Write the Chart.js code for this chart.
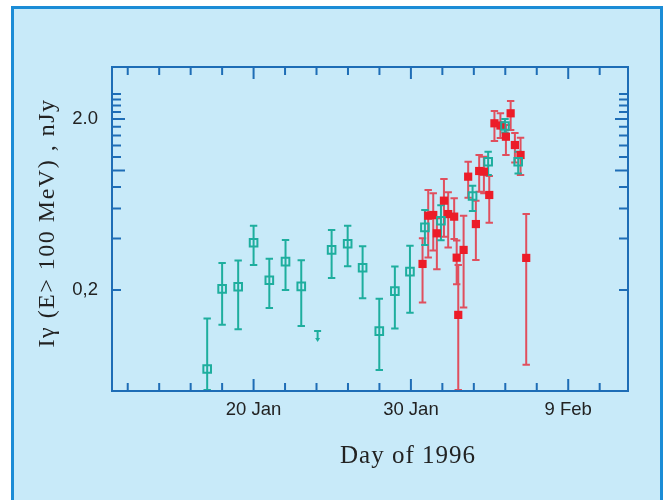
<!DOCTYPE html>
<html lang="en">
<head>
<meta charset="UTF-8" />
<title>Gamma-ray flux, Jan-Feb 1996</title>
<script src="https://cdn.jsdelivr.net/npm/chart.js"></script>
<style>
  html, body { margin: 0; padding: 0; background: #fff; }
  body { width: 663px; height: 500px; overflow: hidden; position: relative; }
  .frame { position: absolute; left: 11px; top: 6px; width: 646px; height: 520px;
           border: 3px solid #1b8cd6; background: #c8eaf9; }
  .chart-wrapper { position: absolute; left: 0; top: 0; width: 663px; height: 500px; }
</style>
</head>
<body>
<div class="frame"></div>
<div class="chart-wrapper">
  <canvas id="fluxChart" width="663" height="500"></canvas>
</div>

<script>
  // open squares (teal): day of 1996, flux and error range (nJy)
  const tealDays = [17.05, 18.0, 19.02, 20.0, 21.0, 22.03, 23.03, 24.96, 25.98, 26.93,
                    27.99, 28.98, 29.94, 30.89, 31.91, 33.92, 34.91, 35.98, 36.82];
  const tealFlux = [0.069, 0.203, 0.209, 0.378, 0.228, 0.293, 0.210, 0.343, 0.373, 0.270,
                    0.115, 0.197, 0.256, 0.465, 0.508, 0.709, 1.125, 1.82, 1.125];
  const tealHigh = [0.136, 0.288, 0.297, 0.475, 0.305, 0.392, 0.298, 0.449, 0.475, 0.361,
                    0.178, 0.274, 0.363, 0.587, 0.626, 0.815, 1.288, 2.0, 1.288];
  const tealLow  = [0.052, 0.125, 0.118, 0.280, 0.157, 0.200, 0.123, 0.235, 0.275, 0.179,
                    0.068, 0.119, 0.147, 0.367, 0.391, 0.579, 0.94, 1.67, 0.96];
  // upper limit (arrow)
  const tealLimitDays = [24.07];
  const tealLimitFlux = [0.115];

  // filled squares (red)
  const redDays = [30.74, 31.10, 31.42, 31.65, 32.10, 32.37, 32.75, 32.91, 33.01, 33.35, 33.64,
                   34.13, 34.34, 34.64, 34.98, 35.31, 35.69, 36.04, 36.34, 36.61, 36.97, 37.33];
  const redFlux = [0.284, 0.544, 0.549, 0.429, 0.666, 0.556, 0.537, 0.309, 0.143, 0.343, 0.920,
                   0.486, 0.993, 0.984, 0.719, 1.888, 1.832, 1.576, 2.160, 1.409, 1.232, 0.308];
  const redHigh = [0.401, 0.769, 0.735, 0.525, 0.891, 0.745, 0.688, 0.389, 0.280, 0.544, 1.125,
                   0.666, 1.232, 1.204, 0.928, 2.227, 2.160, 1.845, 2.549, 1.656, 1.555, 0.556];
  const redLow  = [0.169, 0.310, 0.340, 0.264, 0.410, 0.355, 0.398, 0.216, 0.052, 0.158, 0.693,
                   0.299, 0.751, 0.735, 0.495, 1.487, 1.549, 1.232, 1.725, 1.113, 0.941, 0.073];

  // axes
  const xMin = 11, xMax = 43.8;
  const xTickDays = [12, 14, 16, 18, 20, 22, 24, 26, 28, 30, 32, 34, 36, 38, 40, 42];
  const xLabelDays = [20, 30, 40];
  const xTickLabels = ["20 Jan", "30 Jan", "9 Feb"];
  const yMin = 0.0513, yMax = 4.03;
  const yTickValues = [0.2, 0.4, 0.6, 0.8, 1.0, 1.2, 1.4, 1.6, 1.8, 2.0, 2.2, 2.4, 2.6, 2.8];
  const yMajorValues = [1.0, 2.0];
  const yLabelValues = [0.2, 2.0];
  const yTickLabels = ["0,2", "2.0"];

  const xTitle = "Day of 1996";
  const yTitle = "Iγ (E> 100 MeV) , nJy";

  const axisColor = "#1e6db6";
  const tealColor = "#1eae9e";
  const redColor = "#ec1c28";
  const redBarColor = "rgba(230, 40, 55, 0.8)";
  const textColor = "#222";

  const near = (a, b) => Math.abs(a - b) < 1e-6;

  // error bars + upper limit, drawn under the squares
  const errorBars = {
    id: "errorBars",
    beforeDatasetsDraw(chart) {
      const { ctx, chartArea: a, scales: { x, y } } = chart;
      ctx.save();
      ctx.beginPath();
      ctx.rect(a.left, a.top, a.width, a.height);
      ctx.clip();
      const bars = (days, low, high, color) => {
        ctx.strokeStyle = color;
        ctx.lineWidth = 2;
        ctx.beginPath();
        days.forEach((d, i) => {
          const px = x.getPixelForValue(d);
          const lo = y.getPixelForValue(low[i]);
          const hi = y.getPixelForValue(high[i]);
          ctx.moveTo(px, lo); ctx.lineTo(px, hi);
          ctx.moveTo(px - 3.7, lo); ctx.lineTo(px + 3.7, lo);
          ctx.moveTo(px - 3.7, hi); ctx.lineTo(px + 3.7, hi);
        });
        ctx.stroke();
      };
      bars(redDays, redLow, redHigh, redBarColor);
      bars(tealDays, tealLow, tealHigh, tealColor);

      // upper limit arrow
      ctx.strokeStyle = tealColor;
      ctx.fillStyle = tealColor;
      tealLimitDays.forEach((d, i) => {
        const px = x.getPixelForValue(d);
        const py = y.getPixelForValue(tealLimitFlux[i]);
        ctx.beginPath();
        ctx.moveTo(px - 3.5, py); ctx.lineTo(px + 3.5, py);
        ctx.moveTo(px, py); ctx.lineTo(px, py + 8);
        ctx.stroke();
        ctx.beginPath();
        ctx.moveTo(px - 2.5, py + 7); ctx.lineTo(px + 2.5, py + 7); ctx.lineTo(px, py + 11);
        ctx.closePath();
        ctx.fill();
      });
      ctx.restore();
    }
  };

  // box axes with inward ticks on all four sides, and the axis titles
  const axesFrame = {
    id: "axesFrame",
    afterDraw(chart) {
      const { ctx, chartArea: a, scales: { x, y } } = chart;
      ctx.save();
      ctx.strokeStyle = axisColor;
      ctx.lineWidth = 2;
      ctx.strokeRect(a.left, a.top, a.width, a.height);
      ctx.beginPath();
      xTickDays.forEach(d => {
        const px = x.getPixelForValue(d);
        const len = xLabelDays.includes(d) ? 12 : 8;
        ctx.moveTo(px, a.bottom); ctx.lineTo(px, a.bottom - len);
        ctx.moveTo(px, a.top); ctx.lineTo(px, a.top + len);
      });
      yTickValues.forEach(v => {
        const py = y.getPixelForValue(v);
        const len = yMajorValues.some(m => near(m, v)) ? 13 : 9;
        ctx.moveTo(a.left, py); ctx.lineTo(a.left + len, py);
        ctx.moveTo(a.right, py); ctx.lineTo(a.right - len, py);
      });
      ctx.stroke();

      ctx.fillStyle = textColor;
      ctx.textAlign = "center";
      ctx.textBaseline = "middle";
      ctx.font = '25px "Liberation Serif"';
      ctx.letterSpacing = "1px";
      ctx.fillText(xTitle, 408, 456);

      ctx.translate(48, 223);
      ctx.rotate(-Math.PI / 2);
      ctx.font = '24px "Liberation Serif"';
      ctx.letterSpacing = "1.5px";
      ctx.fillText(yTitle, 0, 0);
      ctx.restore();
    }
  };

  const tickFont = { family: '"Liberation Sans", Arial, sans-serif', size: 18.5 };

  new Chart(document.getElementById("fluxChart").getContext("2d"), {
    type: "scatter",
    data: {
      datasets: [
        {
          label: "open squares",
          data: tealDays.map((d, i) => ({ x: d, y: tealFlux[i] })),
          pointStyle: "rect",
          pointRadius: 5.4,
          borderWidth: 2,
          borderColor: tealColor,
          backgroundColor: "rgba(0,0,0,0)"
        },
        {
          label: "filled squares",
          data: redDays.map((d, i) => ({ x: d, y: redFlux[i] })),
          pointStyle: "rect",
          pointRadius: 5.8,
          borderWidth: 0,
          borderColor: redColor,
          backgroundColor: redColor
        }
      ]
    },
    options: {
      responsive: false,
      animation: false,
      devicePixelRatio: 1,
      layout: { padding: { left: 0, top: 67, right: 35, bottom: 0 } },
      plugins: {
        legend: { display: false },
        tooltip: { enabled: false },
        title: { display: false }
      },
      scales: {
        x: {
          type: "linear",
          min: xMin,
          max: xMax,
          grid: { display: false },
          border: { display: false },
          afterBuildTicks: s => { s.ticks = xTickDays.map(v => ({ value: v })); },
          afterFit: s => { s.height = 109; },
          ticks: {
            autoSkip: false,
            maxRotation: 0,
            padding: 0,
            color: textColor,
            font: tickFont,
            callback: v => {
              const k = xLabelDays.findIndex(d => near(d, v));
              return k >= 0 ? xTickLabels[k] : "";
            }
          }
        },
        y: {
          type: "logarithmic",
          min: yMin,
          max: yMax,
          grid: { display: false },
          border: { display: false },
          afterBuildTicks: s => { s.ticks = yTickValues.map(v => ({ value: v })); },
          afterFit: s => { s.width = 112; },
          ticks: {
            autoSkip: false,
            padding: 6,
            color: textColor,
            font: tickFont,
            callback: v => {
              const k = yLabelValues.findIndex(m => near(m, v));
              return k >= 0 ? yTickLabels[k] : "";
            }
          }
        }
      }
    },
    plugins: [errorBars, axesFrame]
  });
</script>
</body>
</html>
